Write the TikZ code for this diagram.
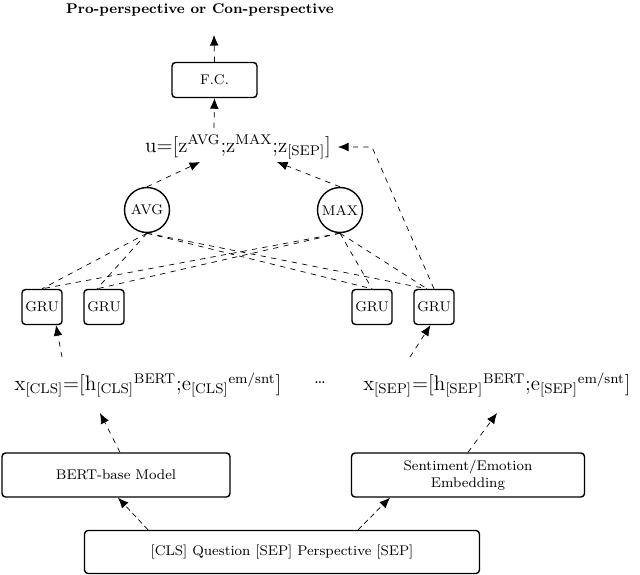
\documentclass[tikz,border=0pt]{standalone}
\usetikzlibrary{arrows.meta}
\begin{document}
\begin{tikzpicture}[x=0.02cm,y=-0.02cm,
  box/.style={draw,thick,rounded corners=2pt,inner sep=0pt},
  gru/.style={box,minimum width=0.8cm,minimum height=0.7cm,font=\fontsize{8}{9}\selectfont},
  pool/.style={draw,circle,thick,minimum size=0.9cm,inner sep=0pt,font=\fontsize{8}{9}\selectfont},
  conn/.style={dashed,thin},
  arr/.style={dashed,-{Latex[length=6pt,width=5pt]}},
  darr/.style={densely dashed,-{Latex[length=6pt,width=5pt]}},
  lbl/.style={font=\fontsize{8}{9.5}\selectfont,align=center}]
\useasboundingbox (0,0) rectangle (640,575);
\node[font=\fontsize{8}{9}\selectfont\bfseries] (out) at (200,10) {Pro-perspective or Con-perspective};
\coordinate (outc) at (214,35);
\node[box,lbl,minimum width=1.7cm,minimum height=0.7cm] (fc) at (214.5,80) {F.C.};
\node (u) at (238,147) {\fontsize{12}{14}\selectfont$\mathrm{u}{=}\big[\mathrm{z}^{\mathrm{AVG}}{;}\mathrm{z}^{\mathrm{MAX}}{;}\mathrm{z}_{[\mathrm{SEP}]}\big]$};
\coordinate (uin) at (214,128);
\coordinate (ua) at (200,162);
\coordinate (um) at (277,162);
\coordinate (ur) at (372,147);
\coordinate (ue) at (338,147);
\node[pool] (avg) at (147,210) {AVG};
\node[pool] (max) at (340,210) {MAX};
\node[gru] (g1) at (42,307) {GRU};
\node[gru] (g2) at (104,307) {GRU};
\node[gru] (g3) at (372,307) {GRU};
\node[gru] (g4) at (434,307) {GRU};
\node (xc) at (148,385) {\fontsize{12}{14}\selectfont$\mathrm{x}_{[\mathrm{CLS}]}{=}\big[\mathrm{h}_{[\mathrm{CLS}]}{}^{\mathrm{BERT}}{;}\mathrm{e}_{[\mathrm{CLS}]}{}^{\mathrm{em/snt}}\big]$};
\node[font=\fontsize{10}{12}\selectfont] (dots) at (320,383) {\dots};
\node (xs) at (497,385) {\fontsize{12}{14}\selectfont$\mathrm{x}_{[\mathrm{SEP}]}{=}\big[\mathrm{h}_{[\mathrm{SEP}]}{}^{\mathrm{BERT}}{;}\mathrm{e}_{[\mathrm{SEP}]}{}^{\mathrm{em/snt}}\big]$};
\coordinate (xc1) at (62,357);
\coordinate (xc2) at (100,413);
\coordinate (xs1) at (410,357);
\coordinate (xs2) at (497,413);
\node[box,lbl,minimum width=4.56cm,minimum height=0.88cm] (bert) at (116,475) {BERT-base Model};
\node[box,lbl,minimum width=4.66cm,minimum height=0.88cm] (sent) at (468,475) {Sentiment/Emotion\\Embedding};
\node[box,lbl,minimum width=7.9cm,minimum height=0.86cm] (inp) at (282,552) {[CLS] Question [SEP] Perspective [SEP]};
% arrows
\draw[arr] (fc.north) -- (outc);
\draw[arr] (uin) -- (fc.south);
\draw[arr] (avg.north) -- (ua);
\draw[arr] (max.north) -- (um);
\draw[arr] (g4.north) -- (ur) -- (ue);
\foreach \p in {avg,max}
  \foreach \g/\dx in {g1/0,g2/-4,g3/0,g4/-4}
    \draw[conn] (\p.south) -- ([xshift=\dx]\g.north);
\draw[arr] (xc1) -- ([xshift=8]g1.south);
\draw[arr] (xs1) -- ([xshift=-2]g4.south);
\draw[arr] (bert.north) ++(4,0) -- (xc2);
\draw[arr] (sent.north) -- (xs2);
\draw[darr] (inp.north -| 148,0) -- (bert.south -| 118,0);
\draw[darr] (inp.north -| 358,0) -- (sent.south -| 390,0);
\end{tikzpicture}
\end{document}
